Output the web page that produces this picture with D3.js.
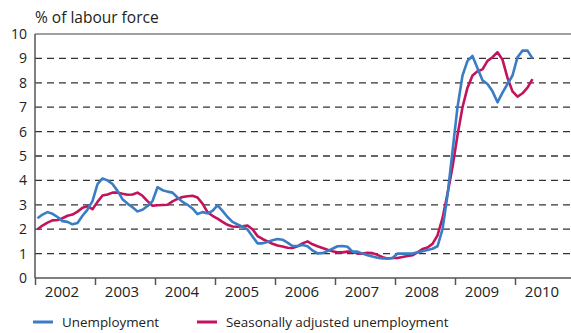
<!DOCTYPE html>
<html lang="en">
<head>
<meta charset="utf-8">
<title>Unemployment</title>
<style>
  body { margin: 0; background: #fff; }
  svg { display: block; font-family: "Open Sans", sans-serif; }
</style>
</head>
<body>
<svg></svg>
<script src="https://d3js.org/d3.v7.min.js"></script>
<script>
// monthly values, Jan 2002 - Apr 2010, % of labour force
var unemployment = [
  2.45, 2.6, 2.7, 2.63, 2.5, 2.33, 2.3, 2.2, 2.25, 2.55, 2.8, 3.15,
  3.85, 4.08, 4.0, 3.85, 3.57, 3.23, 3.05, 2.9, 2.73, 2.8, 2.95, 3.15,
  3.72, 3.6, 3.54, 3.5, 3.3, 3.12, 3.0, 2.85, 2.62, 2.7, 2.65, 2.75,
  2.98, 2.75, 2.5, 2.3, 2.2, 2.1, 1.99, 1.7, 1.42, 1.42, 1.48, 1.55,
  1.6, 1.57, 1.45, 1.31, 1.31, 1.35, 1.3, 1.13, 1.01, 1.02, 1.1, 1.2,
  1.3, 1.31, 1.28, 1.08, 1.08, 1.0, 0.93, 0.88, 0.83, 0.8, 0.8, 0.82,
  1.0, 1.0, 1.0, 1.0, 1.05, 1.1, 1.15, 1.2, 1.3, 2.0, 3.4, 5.2,
  7.0, 8.3, 8.9, 9.1, 8.6, 8.1, 7.95, 7.65, 7.2, 7.6, 7.95, 8.3,
  9.05, 9.32, 9.32, 9.0
];
var seasonallyAdjusted = [
  2.0, 2.15, 2.27, 2.36, 2.38, 2.45, 2.55, 2.6, 2.72, 2.88, 2.94, 2.82,
  3.12, 3.38, 3.42, 3.5, 3.5, 3.45, 3.41, 3.42, 3.5, 3.37, 3.15, 2.96,
  2.98, 2.99, 3.0, 3.14, 3.24, 3.32, 3.35, 3.37, 3.3, 3.05, 2.7, 2.55,
  2.43, 2.3, 2.18, 2.11, 2.1, 2.12, 2.15, 2.0, 1.72, 1.6, 1.5, 1.4,
  1.33, 1.29, 1.24, 1.23, 1.3, 1.42, 1.5, 1.38, 1.3, 1.23, 1.16, 1.1,
  1.05, 1.05, 1.08, 1.07, 1.0, 1.0, 1.03, 1.02, 0.95, 0.85, 0.8, 0.82,
  0.82, 0.86, 0.9, 0.93, 1.05, 1.19, 1.25, 1.4, 1.75, 2.45, 3.45, 4.55,
  5.85, 7.0, 7.8, 8.3, 8.47, 8.55, 8.9, 9.05, 9.25, 8.95, 8.2, 7.65,
  7.43, 7.57, 7.8, 8.15
];
var startYear = 2002;
var years = [2002, 2003, 2004, 2005, 2006, 2007, 2008, 2009, 2010];
var yTicks = [0, 1, 2, 3, 4, 5, 6, 7, 8, 9, 10];
var seriesNames = ["Unemployment", "Seasonally adjusted unemployment"];
var colors = ["#3a7dc4", "#c2135d"];

var width = 571, height = 333;
var svg = d3.select("svg").attr("width", width).attr("height", height);

var x = d3.scaleLinear().domain([2002, 2011]).range([35, 575]);
var y = d3.scaleLinear().domain([0, 10]).range([278, 34]);

function monthX(d, i) { return x(startYear + (i + 0.5) / 12); }

// dashed gridlines
svg.append("g")
  .selectAll("line")
  .data(yTicks.filter(function(d){ return d > 0 && d < 10; }))
  .enter().append("line")
  .attr("x1", x(2002)).attr("x2", width)
  .attr("y1", function(d){ return y(d); })
  .attr("y2", function(d){ return y(d); })
  .style("stroke", "#333")
  .style("stroke-width", 1.3)
  .style("stroke-dasharray", "7,5");

// top frame
svg.append("line")
  .attr("x1", x(2002)).attr("x2", width)
  .attr("y1", y(10)).attr("y2", y(10))
  .style("stroke", "#808080").style("stroke-width", 1.5);

// y labels
svg.append("g")
  .selectAll("text")
  .data(yTicks)
  .enter().append("text")
  .attr("x", 27)
  .attr("y", function(d){ return y(d); })
  .attr("dy", "0.35em")
  .attr("text-anchor", "end")
  .style("font-size", "14px")
  .style("fill", "#222")
  .text(function(d){ return d; });

svg.append("text")
  .attr("x", 35).attr("y", 23)
  .style("font-size", "15.5px")
  .style("fill", "#222")
  .text("% of labour force");

// lines
var line = d3.line()
  .x(monthX)
  .y(function(d){ return y(d); });

[seasonallyAdjusted, unemployment].forEach(function(s, k) {
  svg.append("path")
    .datum(s)
    .attr("d", line)
    .style("fill", "none")
    .style("stroke", k === 0 ? colors[1] : colors[0])
    .style("stroke-width", 2.6)
    .style("stroke-linejoin", "round");
});

// axes
svg.append("line")
  .attr("x1", x(2002)).attr("x2", x(2002))
  .attr("y1", y(10)).attr("y2", y(0))
  .style("stroke", "#555").style("stroke-width", 1.5);

var xAxis = svg.append("g")
  .attr("transform", "translate(0," + y(0) + ")")
  .call(d3.axisBottom(x).tickValues(years.concat([2011])).tickSize(7).tickFormat(""));
xAxis.select(".domain").attr("d", "M" + x(2002) + ",0H" + width)
  .style("stroke", "#555").style("stroke-width", 1.5);
xAxis.selectAll(".tick line").style("stroke", "#555").style("stroke-width", 1.5);

svg.append("g")
  .selectAll("text")
  .data(years)
  .enter().append("text")
  .attr("x", function(d){ return x(d) + 27; })
  .attr("y", 297)
  .attr("text-anchor", "middle")
  .style("font-size", "15px")
  .style("fill", "#222")
  .text(function(d){ return d; });

// legend
var legendX = [33, 197];
var legend = svg.append("g").selectAll("g")
  .data(seriesNames)
  .enter().append("g")
  .attr("transform", function(d, i){ return "translate(" + legendX[i] + ",322)"; });
legend.append("line")
  .attr("x1", 0).attr("x2", 20)
  .style("stroke", function(d, i){ return colors[i]; })
  .style("stroke-width", 3);
legend.append("text")
  .attr("x", 29).attr("dy", "0.35em")
  .style("font-size", "13.4px")
  .style("fill", "#222")
  .text(function(d){ return d; });
</script>
</body>
</html>
